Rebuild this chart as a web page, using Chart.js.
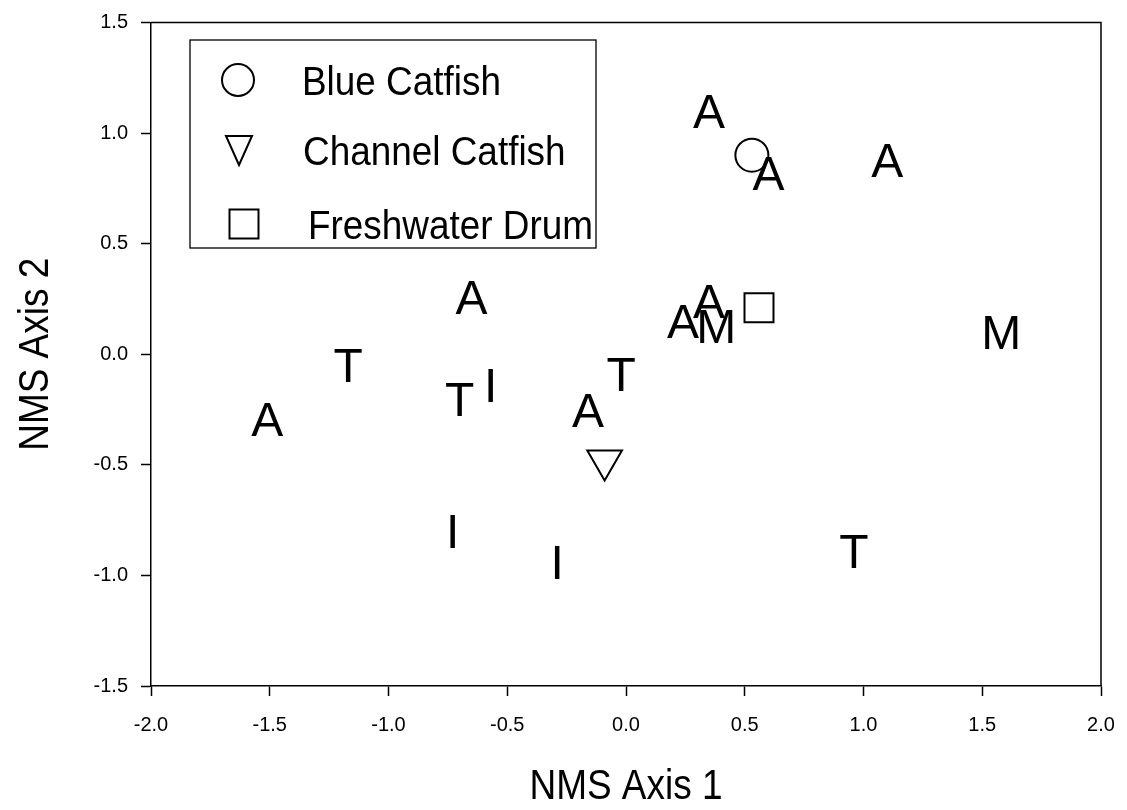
<!DOCTYPE html>
<html>
<head>
<meta charset="utf-8">
<title>NMS ordination</title>
<script src="https://cdn.jsdelivr.net/npm/chart.js@4.4.1/dist/chart.umd.min.js"></script>
<style>
  html, body { margin: 0; padding: 0; background: #ffffff; }
  #wrap { position: relative; width: 1127px; height: 810px; }
</style>
</head>
<body>
<div id="wrap"><canvas id="nms"></canvas></div>
<script>
// Site scores on the two NMS axes, each shown by its letter code
const siteLetters = ['A', 'A', 'A', 'A', 'A', 'A', 'M', 'M', 'T', 'T', 'I', 'T', 'A', 'A', 'I', 'I', 'T'];
const siteAxis1 = [0.35, 0.60, 1.10, -0.65, 0.35, 0.24, 0.38, 1.58, -1.17, -0.70, -0.57, -0.02, -0.16, -1.51, -0.73, -0.29, 0.96];
const siteAxis2 = [1.10, 0.82, 0.88, 0.26, 0.24, 0.15, 0.13, 0.10, -0.05, -0.20, -0.14, -0.09, -0.25, -0.29, -0.80, -0.94, -0.89];

// Species scores
const speciesNames = ['Blue Catfish', 'Channel Catfish', 'Freshwater Drum'];
const speciesAxis1 = [0.53, -0.09, 0.56];
const speciesAxis2 = [0.90, -0.48, 0.21];

// Axis ticks
const xTickValues = [-2.0, -1.5, -1.0, -0.5, 0.0, 0.5, 1.0, 1.5, 2.0];
const yTickValues = [-1.5, -1.0, -0.5, 0.0, 0.5, 1.0, 1.5];
const xTitle = 'NMS Axis 1';
const yTitle = 'NMS Axis 2';

const FONT = "'Liberation Sans', Arial, Helvetica, sans-serif";
const speciesStyles = [
  { pointStyle: 'circle', rotation: 0, radius: 16.5 },
  { pointStyle: 'triangle', rotation: 180, radius: 20 },
  { pointStyle: 'rect', rotation: 0, radius: 20.5 }
];

const datasets = speciesNames.map((name, i) => ({
  label: name,
  data: [{ x: speciesAxis1[i], y: speciesAxis2[i] }],
  pointStyle: speciesStyles[i].pointStyle,
  rotation: speciesStyles[i].rotation,
  pointRadius: speciesStyles[i].radius,
  pointHoverRadius: speciesStyles[i].radius,
  borderColor: '#000',
  backgroundColor: 'rgba(0,0,0,0)',
  borderWidth: 2
}));
datasets.push({
  label: 'sites',
  data: siteAxis1.map((x, i) => ({ x: x, y: siteAxis2[i] })),
  pointRadius: 0,
  pointHoverRadius: 0,
  borderWidth: 0
});

// small legend symbols: circle, downward triangle, square
function legendSymbol(ctx, kind, x, y) {
  ctx.beginPath();
  if (kind === 'circle') {
    ctx.arc(x, y, 16, 0, Math.PI * 2);
  } else if (kind === 'triangle') {
    ctx.moveTo(x - 13, y - 14);
    ctx.lineTo(x + 13, y - 14);
    ctx.lineTo(x, y + 15);
    ctx.closePath();
  } else {
    ctx.rect(x - 14.5, y - 14.5, 29, 29);
  }
  ctx.stroke();
}

// Letters, frame, legend box and axis titles
const nmsDecor = {
  id: 'nmsDecor',
  afterDatasetsDraw(chart) {
    const ctx = chart.ctx;
    const area = chart.chartArea;
    // site letters, centred on their scores
    const meta = chart.getDatasetMeta(chart.data.datasets.length - 1);
    const letterSize = 48;
    ctx.save();
    ctx.fillStyle = '#000';
    ctx.font = letterSize + 'px ' + FONT;
    ctx.textAlign = 'center';
    ctx.textBaseline = 'alphabetic';
    meta.data.forEach((pt, i) => {
      ctx.fillText(siteLetters[i], pt.x, pt.y + letterSize * 0.716 / 2);
    });
    ctx.restore();

    // top and right frame lines
    ctx.save();
    ctx.strokeStyle = '#000';
    ctx.lineWidth = 1.5;
    ctx.beginPath();
    ctx.moveTo(area.left, area.top);
    ctx.lineTo(area.right, area.top);
    ctx.lineTo(area.right, area.bottom);
    ctx.stroke();
    ctx.restore();

    // legend
    const box = { left: 190, top: 40, width: 406, height: 208 };
    ctx.save();
    ctx.strokeStyle = '#000';
    ctx.lineWidth = 1.3;
    ctx.strokeRect(box.left, box.top, box.width, box.height);
    const rowY = [80, 150, 224];
    const symX = [238, 239, 244];
    const textX = [302, 303, 308];
    const legendSize = 41;
    const legendSqueeze = 0.9;
    ctx.font = legendSize + 'px ' + FONT;
    ctx.textAlign = 'left';
    ctx.textBaseline = 'alphabetic';
    speciesNames.forEach((name, i) => {
      ctx.strokeStyle = '#000';
      ctx.lineWidth = 2;
      legendSymbol(ctx, speciesStyles[i].pointStyle, symX[i], rowY[i]);
      ctx.save();
      ctx.fillStyle = '#000';
      ctx.translate(textX[i], rowY[i] + legendSize * 0.716 / 2);
      ctx.scale(legendSqueeze, 1);
      ctx.fillText(name, 0, 0);
      ctx.restore();
    });
    ctx.restore();

    // axis titles, drawn slightly condensed
    const titleSize = 43;
    const squeeze = 0.86;
    ctx.save();
    ctx.fillStyle = '#000';
    ctx.font = titleSize + 'px ' + FONT;
    ctx.textAlign = 'center';
    ctx.textBaseline = 'middle';
    ctx.translate((area.left + area.right) / 2, 787);
    ctx.scale(squeeze, 1);
    ctx.fillText(xTitle, 0, 0);
    ctx.restore();
    ctx.save();
    ctx.fillStyle = '#000';
    ctx.font = titleSize + 'px ' + FONT;
    ctx.textAlign = 'center';
    ctx.textBaseline = 'middle';
    ctx.translate(36, (area.top + area.bottom) / 2);
    ctx.rotate(-Math.PI / 2);
    ctx.scale(squeeze, 1);
    ctx.fillText(yTitle, 0, 0);
    ctx.restore();
  }
};

const tickFont = { family: FONT, size: 20 };

new Chart(document.getElementById('nms'), {
  type: 'scatter',
  data: { datasets: datasets },
  options: {
    responsive: true,
    maintainAspectRatio: false,
    animation: false,
    events: [],
    layout: { padding: { left: 0, top: 20, right: 26, bottom: 0 } },
    plugins: { legend: { display: false }, tooltip: { enabled: false } },
    scales: {
      x: {
        type: 'linear',
        min: -2, max: 2,
        afterBuildTicks(scale) { scale.ticks = xTickValues.map(v => ({ value: v })); },
        afterFit(scale) { scale.height = 124; scale.paddingLeft = 0; scale.paddingRight = 0; },
        ticks: { color: '#000', font: tickFont, padding: 17, maxRotation: 0, callback: v => v.toFixed(1) },
        grid: { drawOnChartArea: false, drawTicks: true, tickLength: 10, tickWidth: 1.5, color: '#000' },
        border: { display: true, color: '#000', width: 1.5 }
      },
      y: {
        type: 'linear',
        min: -1.5, max: 1.5,
        afterBuildTicks(scale) { scale.ticks = yTickValues.map(v => ({ value: v })); },
        afterFit(scale) { scale.width = 151; scale.paddingTop = 0; scale.paddingBottom = 0; },
        ticks: { color: '#000', font: tickFont, padding: 13, callback: v => v.toFixed(1) },
        grid: { drawOnChartArea: false, drawTicks: true, tickLength: 10, tickWidth: 1.5, color: '#000' },
        border: { display: true, color: '#000', width: 1.5 }
      }
    }
  },
  plugins: [nmsDecor]
});
</script>
</body>
</html>
